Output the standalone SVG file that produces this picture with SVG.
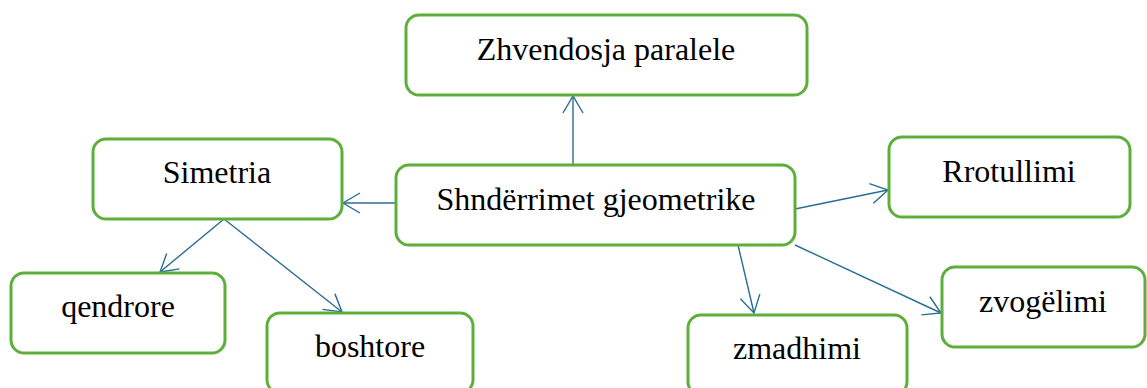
<svg xmlns="http://www.w3.org/2000/svg" width="1147" height="388" viewBox="0 0 1147 388">
<style>
.box{fill:#fff;stroke:#5eae3c;stroke-width:3}
.lbl{font-family:'Liberation Serif','Times New Roman',serif;font-size:32px;fill:#000;text-anchor:middle}
.con{stroke:#2b6d93;stroke-width:1.4;fill:none;marker-end:url(#ah)}
</style>
<defs>
<marker id="ah" markerUnits="userSpaceOnUse" markerWidth="24" markerHeight="24" viewBox="-20 -12 24 24" refX="0" refY="0" orient="auto">
<path d="M-17,-10 L0,0 L-17,10" fill="none" stroke="#2b6d93" stroke-width="1.4"/>
</marker>
</defs>
<rect width="1147" height="388" fill="#fff"/>
<g id="connectors">
<line class="con" x1="573" y1="165" x2="573" y2="96"/>
<line class="con" x1="396" y1="203" x2="343" y2="203"/>
<line class="con" x1="224" y1="219" x2="160" y2="272"/>
<line class="con" x1="224" y1="219" x2="342" y2="312"/>
<line class="con" x1="795" y1="209" x2="888" y2="190"/>
<line class="con" x1="795" y1="245" x2="941" y2="313"/>
<line class="con" x1="738" y1="245" x2="754" y2="313"/>
</g>
<g id="zhvendosja">
<rect class="box" x="406" y="15" width="401" height="80" rx="13"/>
<text class="lbl" x="606" y="60">Zhvendosja paralele</text>
</g>
<g id="shnderrimet">
<rect class="box" x="396" y="165" width="399" height="80" rx="13"/>
<text class="lbl" x="596" y="210">Shndërrimet gjeometrike</text>
</g>
<g id="simetria">
<rect class="box" x="93" y="139" width="249" height="80" rx="13"/>
<text class="lbl" x="217" y="183">Simetria</text>
</g>
<g id="qendrore">
<rect class="box" x="11" y="273" width="214" height="80" rx="13"/>
<text class="lbl" x="118" y="317">qendrore</text>
</g>
<g id="boshtore">
<rect class="box" x="267" y="313" width="206" height="80" rx="13"/>
<text class="lbl" x="370" y="357">boshtore</text>
</g>
<g id="rrotullimi">
<rect class="box" x="889" y="137" width="241" height="80" rx="13"/>
<text class="lbl" x="1009" y="182">Rrotullimi</text>
</g>
<g id="zvogelimi">
<rect class="box" x="942" y="267" width="203" height="80" rx="13"/>
<text class="lbl" x="1043" y="312">zvogëlimi</text>
</g>
<g id="zmadhimi">
<rect class="box" x="688" y="315" width="219" height="80" rx="13"/>
<text class="lbl" x="797" y="359">zmadhimi</text>
</g>
</svg>
